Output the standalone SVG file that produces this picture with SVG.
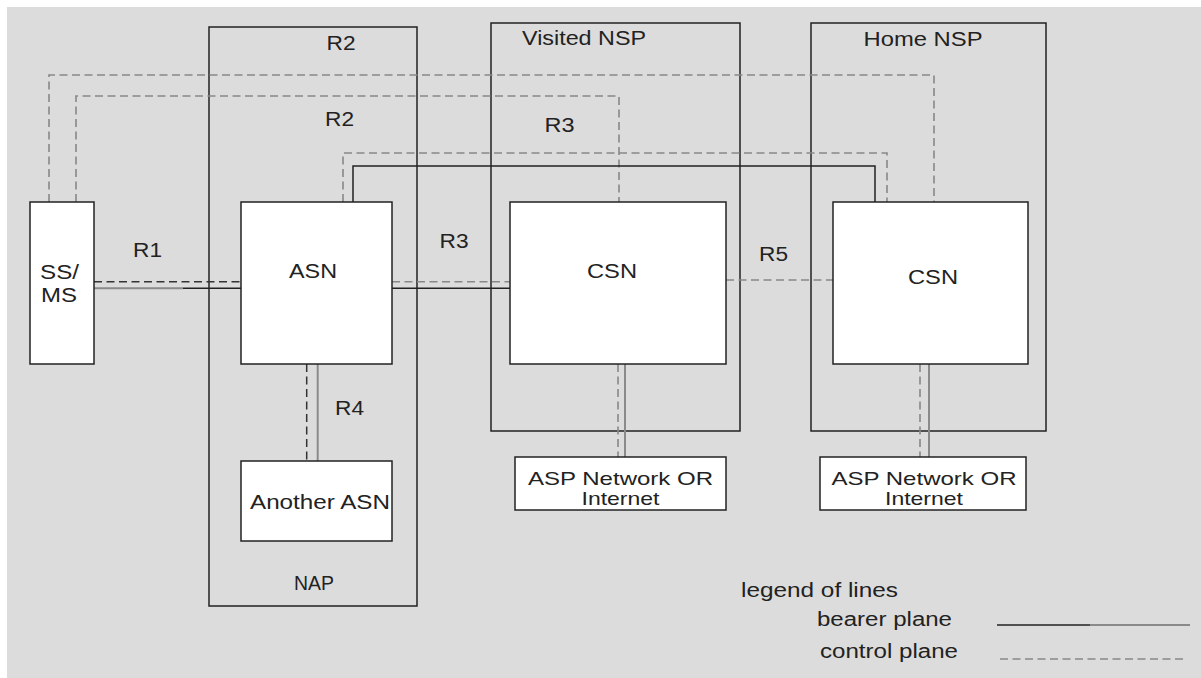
<svg xmlns="http://www.w3.org/2000/svg" width="1201" height="678" viewBox="0 0 1201 678">
  <style>
    .frame { fill: none; stroke: #222; stroke-width: 1.5; }
    .box { fill: #fff; stroke: #222; stroke-width: 1.5; }
    .lbl { font-family: "Liberation Sans", Arial, sans-serif; font-size: 20px; fill: #222; }
    .small { font-size: 19px; }
    .mid { text-anchor: middle; }
    .ctl { fill: none; stroke: #888; stroke-width: 1.6; stroke-dasharray: 8 4.5; }
    .ctl-dark { fill: none; stroke: #333; stroke-width: 1.5; stroke-dasharray: 8 4.5; }
    .bearer { fill: none; stroke: #222; stroke-width: 1.5; }
    .bearer-grey { fill: none; stroke: #8a8a8a; stroke-width: 2; }
  </style>

  <!-- page background -->
  <rect x="0" y="0" width="1201" height="678" fill="#fff"/>
  <rect x="7" y="7" width="1194" height="671" fill="#dcdcdc"/>

  <!-- domain frames -->
  <g id="nap">
    <rect class="frame" x="209" y="27" width="208" height="579"/>
    <text class="lbl mid" x="314" y="590" textLength="40" lengthAdjust="spacingAndGlyphs">NAP</text>
  </g>
  <g id="visited-nsp">
    <rect class="frame" x="491" y="23" width="249" height="408"/>
    <text class="lbl mid" x="584" y="45" textLength="124" lengthAdjust="spacingAndGlyphs">Visited NSP</text>
  </g>
  <g id="home-nsp">
    <rect class="frame" x="811" y="23" width="235" height="408"/>
    <text class="lbl mid" x="923" y="45.5" textLength="119" lengthAdjust="spacingAndGlyphs">Home NSP</text>
  </g>

  <!-- connectors -->
  <g id="connectors">
    <!-- R2 control loops from SS/MS -->
    <polyline class="ctl" points="49,202 49,75 934,75 934,202"/>
    <polyline class="ctl" points="76,202 76,96 619,96 619,202"/>
    <!-- R3 control and bearer loops from ASN to home CSN -->
    <polyline class="ctl" points="343,202 343,153 887,153 887,202"/>
    <polyline class="bearer" points="353,202 353,166 875,166 875,202"/>
    <!-- R1 -->
    <line class="ctl-dark" x1="94" y1="281.7" x2="241" y2="281.7"/>
    <line class="bearer-grey" x1="94" y1="288.3" x2="183" y2="288.3"/>
    <line class="bearer" x1="183" y1="288.3" x2="241" y2="288.3"/>
    <!-- R3 ASN to visited CSN -->
    <line class="ctl" x1="392" y1="281.7" x2="510" y2="281.7"/>
    <line class="bearer" x1="392" y1="288.3" x2="510" y2="288.3"/>
    <!-- R5 -->
    <line class="ctl" x1="726" y1="280" x2="833" y2="280"/>
    <!-- R4 -->
    <line class="ctl-dark" x1="306.7" y1="364" x2="306.7" y2="461"/>
    <line class="bearer-grey" x1="317.7" y1="364" x2="317.7" y2="461"/>
    <!-- CSN to ASP networks -->
    <line class="ctl" x1="618" y1="364" x2="618" y2="457"/>
    <line class="bearer-grey" x1="625" y1="364" x2="625" y2="457"/>
    <line class="ctl" x1="920" y1="364" x2="920" y2="457"/>
    <line class="bearer-grey" x1="929" y1="364" x2="929" y2="457"/>
  </g>

  <!-- reference point labels -->
  <g id="reference-points">
    <text class="lbl mid" x="341" y="50" textLength="29" lengthAdjust="spacingAndGlyphs">R2</text>
    <text class="lbl mid" x="339.5" y="126" textLength="29" lengthAdjust="spacingAndGlyphs">R2</text>
    <text class="lbl mid" x="147.5" y="257" textLength="29" lengthAdjust="spacingAndGlyphs">R1</text>
    <text class="lbl mid" x="559.5" y="132" textLength="30" lengthAdjust="spacingAndGlyphs">R3</text>
    <text class="lbl mid" x="454" y="248" textLength="29" lengthAdjust="spacingAndGlyphs">R3</text>
    <text class="lbl mid" x="773.5" y="261" textLength="29" lengthAdjust="spacingAndGlyphs">R5</text>
    <text class="lbl mid" x="349.5" y="415" textLength="29" lengthAdjust="spacingAndGlyphs">R4</text>
  </g>

  <!-- nodes -->
  <g id="ss-ms">
    <rect class="box" x="30" y="202" width="64" height="162"/>
    <text class="lbl" x="40" y="279" textLength="39" lengthAdjust="spacingAndGlyphs">SS/</text>
    <text class="lbl" x="41" y="302" textLength="36" lengthAdjust="spacingAndGlyphs">MS</text>
  </g>
  <g id="asn">
    <rect class="box" x="241" y="202" width="151" height="162"/>
    <text class="lbl mid" x="313" y="278" textLength="48" lengthAdjust="spacingAndGlyphs">ASN</text>
  </g>
  <g id="another-asn">
    <rect class="box" x="241" y="461" width="151" height="80"/>
    <text class="lbl mid" x="320" y="509" textLength="140" lengthAdjust="spacingAndGlyphs">Another ASN</text>
  </g>
  <g id="csn-visited">
    <rect class="box" x="510" y="202" width="216" height="162"/>
    <text class="lbl mid" x="612" y="278" textLength="50" lengthAdjust="spacingAndGlyphs">CSN</text>
  </g>
  <g id="csn-home">
    <rect class="box" x="833" y="202" width="195" height="162"/>
    <text class="lbl mid" x="933" y="284" textLength="50" lengthAdjust="spacingAndGlyphs">CSN</text>
  </g>
  <g id="asp-visited">
    <rect class="box" x="515" y="457" width="211" height="53"/>
    <text class="lbl small mid" x="620.5" y="485" textLength="185" lengthAdjust="spacingAndGlyphs">ASP Network OR</text>
    <text class="lbl small mid" x="620.5" y="505" textLength="78" lengthAdjust="spacingAndGlyphs">Internet</text>
  </g>
  <g id="asp-home">
    <rect class="box" x="820" y="457" width="206" height="53"/>
    <text class="lbl small mid" x="924" y="485" textLength="185" lengthAdjust="spacingAndGlyphs">ASP Network OR</text>
    <text class="lbl small mid" x="924" y="505" textLength="78" lengthAdjust="spacingAndGlyphs">Internet</text>
  </g>

  <!-- legend -->
  <g id="legend">
    <text class="lbl" x="741" y="597" textLength="157" lengthAdjust="spacingAndGlyphs">legend of lines</text>
    <text class="lbl" x="817" y="626" textLength="135" lengthAdjust="spacingAndGlyphs">bearer plane</text>
    <text class="lbl" x="820" y="658" textLength="138" lengthAdjust="spacingAndGlyphs">control plane</text>
    <line class="bearer" x1="997" y1="625" x2="1090" y2="625"/>
    <line class="bearer-grey" x1="1090" y1="625" x2="1190" y2="625"/>
    <line class="ctl" x1="1000" y1="659" x2="1185" y2="659"/>
  </g>
</svg>
